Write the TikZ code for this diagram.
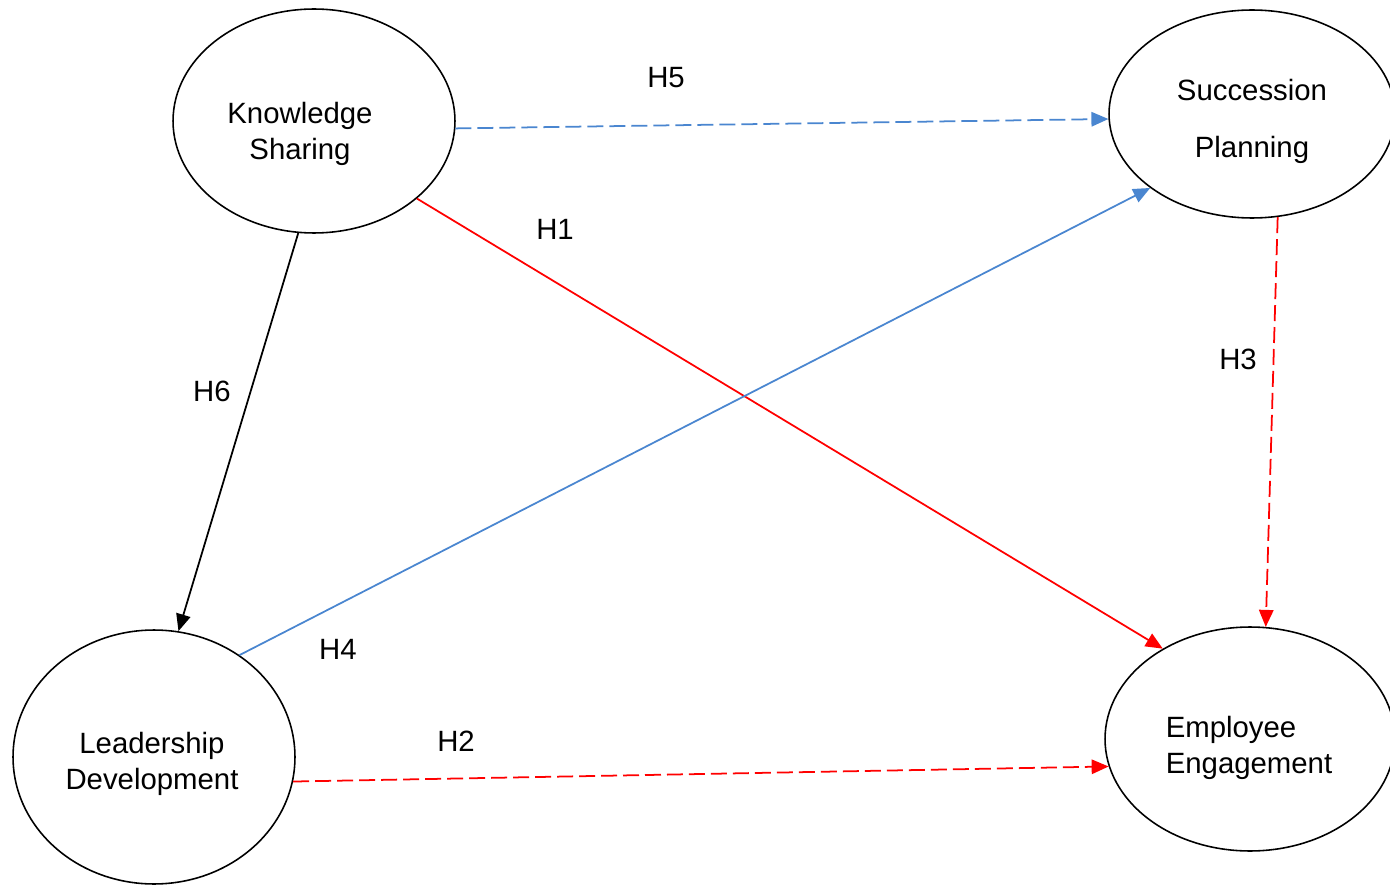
\documentclass[tikz,border=0pt]{standalone}
\usepackage{fontspec}
\setmainfont{Liberation Sans}
\usetikzlibrary{shapes.geometric,arrows.meta}
\definecolor{hypblue}{RGB}{74,134,208}
\begin{document}
\begin{tikzpicture}[x=0.02cm,y=-0.02cm,
  every node/.style={font=\fontsize{16.7}{20.4}\selectfont},
  construct/.style={draw,ellipse,line width=0.9pt,inner sep=0pt},
  hyp/.style={line width=1pt,-{Triangle[length=0.34cm,width=0.29cm]}},
  hypdash/.style={hyp,dash pattern=on 0.32cm off 0.12cm}]
\useasboundingbox (0,0) rectangle (1390,885);
\node[construct,minimum width=5.64cm,minimum height=4.48cm] (ks) at (314,121) {};
\node[construct,minimum width=5.72cm,minimum height=4.16cm] (sp) at (1252,114) {};
\node[construct,minimum width=5.64cm,minimum height=5.08cm] (ld) at (154,757) {};
\node[construct,minimum width=5.8cm,minimum height=4.48cm] (ee) at (1250,739) {};
\node[align=center] (kstext) at (300,134) {Knowledge\\Sharing};
\node[align=center] (sptext) at (1252,121) {Succession\\[0.42cm]Planning};
\node[align=center] (ldtext) at (152,764) {Leadership\\Development};
\node[align=left] (eetext) at (1249,748) {Employee\\Engagement};
\draw[hypdash,hypblue] (ks.-3) -- (sp.182);
\draw[hyp,red] (ks.-37) -- (ee.134);
\draw[hyp] (ks.-98) -- (ld.79);
\draw[hyp,hypblue] (ld.50) -- (sp.216);
\draw[hypdash,red] (sp.-76) -- (ee.82);
\draw[hypdash,red] (ld.-10) -- (ee.191);
\node (h5) at (666,78) {H5};
\node (h1) at (555,229) {H1};
\node (h6) at (212,391) {H6};
\node (h4) at (338,649) {H4};
\node (h3) at (1238,359) {H3};
\node (h2) at (456,741) {H2};
\end{tikzpicture}
\end{document}
